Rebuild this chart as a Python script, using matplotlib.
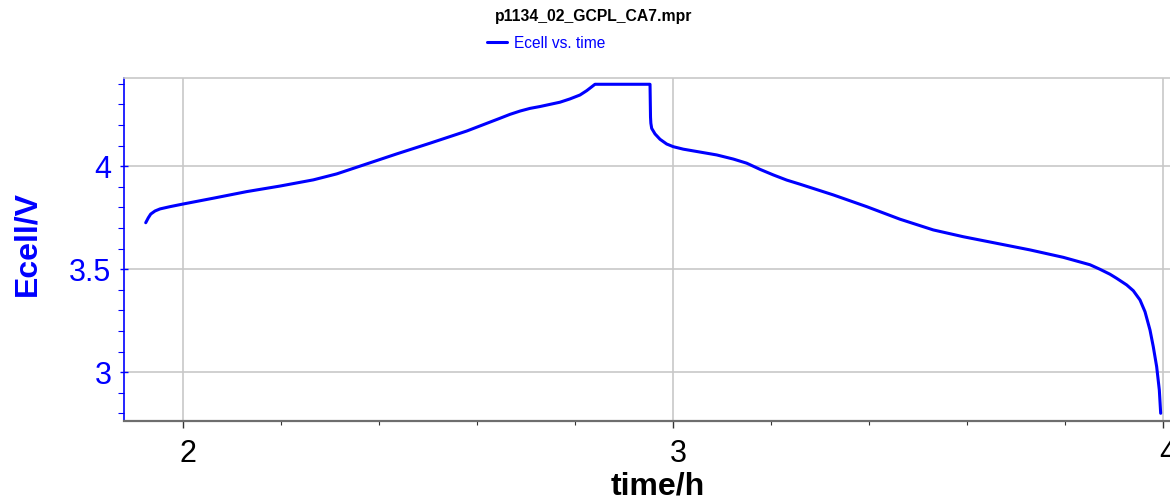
import matplotlib
matplotlib.use("Agg")
import matplotlib.pyplot as plt
import matplotlib.transforms as mtransforms
from matplotlib.ticker import MultipleLocator

plt.rcParams["font.family"] = ["Liberation Sans", "DejaVu Sans"]

title = "p1134_02_GCPL_CA7.mpr"
series_label = "Ecell vs. time"
x_label = "time/h"
y_label = "Ecell/V"

# Charge / CV hold / discharge record
time_h = [
    1.9239, 1.9292, 1.9341, 1.9429, 1.9531, 1.9735, 2.0006, 2.0618, 2.1300,
    2.1980, 2.2659, 2.3137, 2.3680, 2.4361, 2.5041, 2.5790, 2.6469, 2.6673,
    2.6878, 2.7082, 2.7286, 2.7694, 2.7898, 2.8102, 2.8239, 2.8408, 2.9531,
    2.9541, 2.9548, 2.9565, 2.9633, 2.9735, 2.9871, 3.0006, 3.0210, 3.0551,
    3.0892, 3.1231, 3.1504, 3.1776, 3.2047, 3.2320, 3.2592, 3.3271, 3.3953,
    3.4633, 3.5312, 3.5924, 3.6606, 3.7286, 3.7965, 3.8510, 3.8714, 3.8918,
    3.9055, 3.9259, 3.9394, 3.9531, 3.9633, 3.9735, 3.9802, 3.9871, 3.9925,
    3.9953,
]
ecell_v = [
    3.726, 3.750, 3.768, 3.783, 3.793, 3.804, 3.817, 3.845, 3.877,
    3.904, 3.934, 3.963, 4.006, 4.060, 4.112, 4.171, 4.233, 4.252,
    4.268, 4.281, 4.290, 4.311, 4.327, 4.346, 4.367, 4.398, 4.398,
    4.239, 4.209, 4.184, 4.157, 4.131, 4.108, 4.095, 4.083, 4.069,
    4.055, 4.035, 4.015, 3.985, 3.958, 3.933, 3.913, 3.861, 3.804,
    3.743, 3.691, 3.658, 3.626, 3.594, 3.558, 3.522, 3.500, 3.476,
    3.456, 3.424, 3.396, 3.351, 3.294, 3.205, 3.124, 3.027, 2.914,
    2.801,
]

blue = "#0000FF"
grid_grey = "#c8c8c8"

fig = plt.figure(figsize=(11.7, 5.0), dpi=100)
ax = fig.add_axes([0.106, 0.1586, 0.9128, 0.6848])

line, = ax.plot(time_h, ecell_v, color=blue, lw=2.2, solid_joinstyle="round",
                solid_capstyle="round", label=series_label)

ax.set_xlim(1.8796, 4.0592)
ax.set_ylim(2.765, 4.427)

ax.xaxis.set_major_locator(MultipleLocator(1))
ax.xaxis.set_minor_locator(MultipleLocator(0.2))
ax.yaxis.set_major_locator(MultipleLocator(0.5))
ax.yaxis.set_minor_locator(MultipleLocator(0.1))
ax.xaxis.set_major_formatter(plt.FuncFormatter(lambda v, p: f"{v:g}"))
ax.yaxis.set_major_formatter(plt.FuncFormatter(lambda v, p: f"{v:g}"))

ax.grid(True, which="major", color=grid_grey, lw=1.2)
ax.set_axisbelow(True)

ax.spines["left"].set_color(blue)
ax.spines["left"].set_linewidth(1.2)
ax.spines["bottom"].set_color("#6e6e6e")
ax.spines["bottom"].set_linewidth(1.6)
ax.spines["top"].set_color(grid_grey)
ax.spines["top"].set_linewidth(1.2)
ax.spines["right"].set_visible(False)

ax.tick_params(axis="y", which="major", colors=blue, labelsize=22, length=6,
               width=1.0, direction="inout", pad=6)
ax.tick_params(axis="y", which="minor", colors=blue, length=4, width=0.8)
ax.tick_params(axis="x", which="major", colors="#333333", labelcolor="black",
               labelsize=22, length=5, width=1.0, pad=8)
ax.tick_params(axis="x", which="minor", colors="#333333", length=3, width=0.8)

# nudge the time tick labels slightly to the right of their ticks
shift = mtransforms.ScaledTranslation(5 / 100, 0, fig.dpi_scale_trans)
for lbl in ax.get_xticklabels():
    lbl.set_transform(lbl.get_transform() + shift)

ax.set_xlabel(x_label, fontsize=23, fontweight="bold", color="black", labelpad=2)
fig.text(27 / 1170, 1 - 243 / 500, y_label, fontsize=23, fontweight="bold",
         color=blue, rotation=90, ha="center", va="center")

fig.text(594 / 1170, 1 - 17 / 500, title, fontsize=11.3, fontweight="bold",
         ha="center", va="center")
fig.legend(handles=[line], loc="center", bbox_to_anchor=(546 / 1170, 1 - 43 / 500),
           frameon=False, fontsize=11.2, labelcolor=blue, handlelength=1.25,
           handletextpad=0.45, borderaxespad=0, borderpad=0)

fig.savefig("out.png", dpi=100)
